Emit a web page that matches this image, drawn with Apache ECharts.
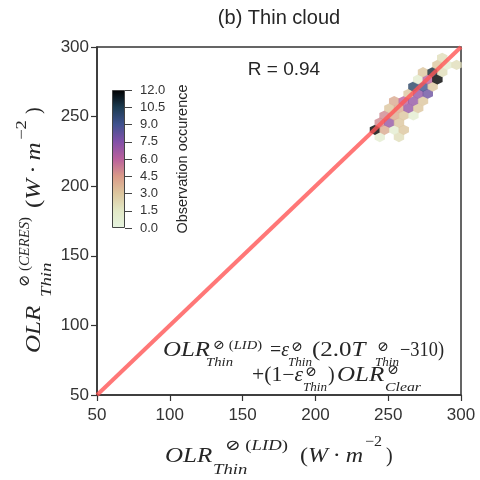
<!DOCTYPE html>
<html><head><meta charset="utf-8">
<script src="https://cdn.jsdelivr.net/npm/echarts@6/dist/echarts.min.js"></script>
<style>html,body{margin:0;padding:0;background:#fff}#c{width:480px;height:480px}</style>
</head><body><div id="c"></div>
<script>
// ---- data ----
const axisMin = 50, axisMax = 300, axisStep = 50;
const cbMin = 0, cbMax = 12, cbStep = 1.5;
const fitLine = [[50, 50], [300, 300]];
const hexX = [244.2, 257.4,
  240.9, 247.5, 254.1, 260.7,
  244.2, 250.8, 257.4,
  247.5, 254.1, 260.7, 267.3,
  250.8, 257.4, 264.0, 270.6,
  254.1, 260.7, 267.3, 273.9,
  264.0, 270.6, 277.2,
  267.3, 273.9, 280.5,
  270.6, 277.2, 283.8,
  273.9, 280.5, 287.1,
  283.8, 290.4, 297.0,
  287.1];
const hexY = [235.3, 235.3,
  240.5, 240.5, 240.5, 240.5,
  245.7, 245.7, 245.7,
  250.8, 250.8, 250.8, 250.8,
  256.0, 256.0, 256.0, 256.0,
  261.2, 261.2, 261.2, 261.2,
  266.4, 266.4, 266.4,
  271.6, 271.6, 271.6,
  276.7, 276.7, 276.7,
  281.9, 281.9, 281.9,
  287.1, 287.1, 287.1,
  292.2];
const hexCount = [1, 2,
  12, 4, 1, 3,
  5, 7, 3,
  5, 4, 3, 1,
  3, 4, 7, 3,
  4, 6, 7, 3,
  3, 7, 8,
  10, 9, 3,
  1, 6, 12,
  3, 11, 2,
  3, 1, 2,
  2];
const titleText = '(b) Thin cloud';
const rText = 'R = 0.94';
const cbName = 'Observation occurence';
const cmap = ['#e6f4e0', '#e2e8c6', '#dcc69e', '#d99a88', '#b9609c', '#8250a8', '#40528f', '#1c3b50', '#000000'];

// ---- math text helper (anchored runs, gently fitted to target widths) ----
const SERIF = '"Liberation Serif","DejaVu Serif","DejaVu Sans",serif';
const mctx = document.createElement('canvas').getContext('2d');
function fstr(size, it) { return (it ? 'italic ' : '') + size + 'px ' + SERIF; }
function mw(t, f) { mctx.font = f; return mctx.measureText(t).width; }
function runEl(tk, color) {
  const kids = []; let x = 0;
  for (const [st, txt] of tk.run) {
    const f = fstr(tk.s, st === 'i');
    kids.push({ type: 'text', x: x, y: -0.3 * tk.s, silent: true,
      style: { text: txt, font: f, fill: color, verticalAlign: 'middle', align: 'left' } });
    x += mw(txt, f);
  }
  let sx = 1;
  if (tk.w) sx = Math.max(0.85, Math.min(1.25, tk.w / x));
  return { type: 'group', x: tk.x, y: tk.dy || 0, scaleX: sx, silent: true, children: kids };
}
function mathText(tokens, o) {
  const c = o.color || '#262626';
  return { type: 'group', x: o.x, y: o.y, rotation: o.rot || 0, silent: true,
    children: tokens.map(t => runEl(t, c)) };
}
const M = 20, S1 = 15, S2 = 13, OS = 14;
const TS = '\u2009';
const xLabTok = [
  { x: 165, w: 50, s: M, run: [['i', 'OLR']] },
  { x: 225, w: 63, s: S1, dy: -12, run: [['r', '⊘ ('], ['i', 'LID'], ['r', ')']] },
  { x: 213, w: 38, s: S1, dy: 12, run: [['i', 'Thin']] },
  { x: 300, w: 63, s: M, run: [['r', '('], ['i', 'W'], ['r', TS + '·' + TS], ['i', 'm']] },
  { x: 365, w: 17, s: S1, dy: -16, run: [['r', '−2']] },
  { x: 386, s: M, run: [['r', ')']] }];
const yLabTok = [
  { x: 0, w: 50, s: M, run: [['i', 'OLR']] },
  { x: 66, w: 70, s: S1, dy: -11, run: [['r', '⊘ ('], ['i', 'CERES'], ['r', ')']] },
  { x: 56, w: 38, s: S1, dy: 11, run: [['i', 'Thin']] },
  { x: 145, w: 66, s: M, run: [['r', '('], ['i', 'W'], ['r', TS + '·' + TS], ['i', 'm']] },
  { x: 213, w: 20, s: S1, dy: -14, run: [['r', '−2']] },
  { x: 239, s: M, run: [['r', ')']] }];
const eqTok = [
  { x: 163, w: 47, s: M, run: [['i', 'OLR']] },
  { x: 213, w: 49, s: S2, dy: -8, run: [['r', '⊘ ('], ['i', 'LID'], ['r', ')']] },
  { x: 206, w: 27, s: S2, dy: 9, run: [['i', 'Thin']] },
  { x: 270, w: 19, s: M, run: [['r', '='], ['i', 'ε']] },
  { x: 291, s: OS, dy: -5, run: [['r', '⊘']] },
  { x: 288, w: 24, s: S2, dy: 9, run: [['i', 'Thin']] },
  { x: 312, w: 63, s: M, run: [['r', '(2.0'], ['i', 'T']] },
  { x: 377, s: OS, dy: -5, run: [['r', '⊘']] },
  { x: 375, w: 24, s: S2, dy: 9, run: [['i', 'Thin']] },
  { x: 400, w: 44, s: M, run: [['r', '−310)']] },
  { x: 252, w: 51, s: M, dy: 25, run: [['r', '+(1−'], ['i', 'ε']] },
  { x: 305, s: OS, dy: 20, run: [['r', '⊘']] },
  { x: 303, w: 24, s: S2, dy: 34, run: [['i', 'Thin']] },
  { x: 328, s: M, dy: 25, run: [['r', ')']] },
  { x: 337, w: 48, s: M, dy: 25, run: [['i', 'OLR']] },
  { x: 387, s: OS, dy: 18, run: [['r', '⊘']] },
  { x: 385, w: 36, s: S2, dy: 34, run: [['i', 'Clear']] }];

const hexPath = 'path://M0.5,0 L1,0.25 L1,0.75 L0.5,1 L0,0.75 L0,0.25 Z';
const SANS = '"Liberation Sans", Arial, sans-serif';
const gridColor = '#333';

const chart = echarts.init(document.getElementById('c'), null, { renderer: 'canvas' });
const mainAxis = (isX) => ({
  type: 'value', min: axisMin, max: axisMax, interval: axisStep, gridIndex: 0,
  axisLine: { show: true, onZero: false, lineStyle: { color: gridColor, width: 1.5 } },
  axisTick: { show: true, inside: false, length: 6, lineStyle: { color: gridColor, width: 1.2 } },
  axisLabel: { fontFamily: SANS, fontSize: 17, color: '#333', margin: isX ? 12 : 8 },
  splitLine: { show: false }
});
const stops = cmap.map((c, i) => ({ offset: 1 - i / (cmap.length - 1), color: c }));
chart.setOption({
  animation: false,
  backgroundColor: '#fff',
  grid: [
    { left: 97, right: 19, top: 47, bottom: 85, show: true, borderColor: gridColor, borderWidth: 1.5, backgroundColor: 'rgba(0,0,0,0)' },
    { left: 112, top: 90, width: 13, height: 138 }
  ],
  xAxis: [mainAxis(true),
    { type: 'category', gridIndex: 1, data: [''], show: false }],
  yAxis: [mainAxis(false),
    { type: 'value', gridIndex: 1, position: 'right', min: cbMin, max: cbMax, interval: cbStep,
      axisLine: { show: false }, axisTick: { show: true, length: 7, lineStyle: { color: '#444', width: 1 } },
      axisLabel: { fontFamily: SANS, fontSize: 13, color: '#333', margin: 15, formatter: v => v.toFixed(1) },
      splitLine: { show: false },
      name: cbName, nameLocation: 'middle', nameRotate: 90, nameGap: 50,
      nameTextStyle: { fontFamily: SANS, fontSize: 14.5, color: '#262626' } }],
  visualMap: { show: false, seriesIndex: 0, dimension: 2, min: cbMin, max: cbMax, inRange: { color: cmap } },
  series: [
    { type: 'scatter', xAxisIndex: 0, yAxisIndex: 0, symbol: hexPath, symbolSize: [10.4, 10.2],
      data: hexX.map((x, i) => [x, hexY[i], hexCount[i]]), z: 2, silent: true },
    { type: 'line', xAxisIndex: 0, yAxisIndex: 0, data: fitLine, showSymbol: false, z: 3, silent: true,
      lineStyle: { color: 'rgba(255,85,85,0.8)', width: 4 } },
    { type: 'bar', xAxisIndex: 1, yAxisIndex: 1, data: [cbMax], barWidth: '100%', silent: true,
      itemStyle: { color: new echarts.graphic.LinearGradient(0, 0, 0, 1, stops), borderColor: '#444', borderWidth: 1 } }
  ],
  graphic: [
    { type: 'text', x: 279, y: 18, silent: true, style: { text: titleText, font: '20px ' + SANS, fill: '#262626', align: 'center', verticalAlign: 'middle' } },
    { type: 'text', x: 284, y: 70, silent: true, style: { text: rText, font: '19px ' + SANS, fill: '#262626', align: 'center', verticalAlign: 'middle' } },
    mathText(xLabTok, { x: 0, y: 463 }),
    mathText(yLabTok, { x: 41, y: 353, rot: Math.PI / 2 }),
    mathText(eqTok, { x: 0, y: 357 })
  ]
});
</script></body></html>
